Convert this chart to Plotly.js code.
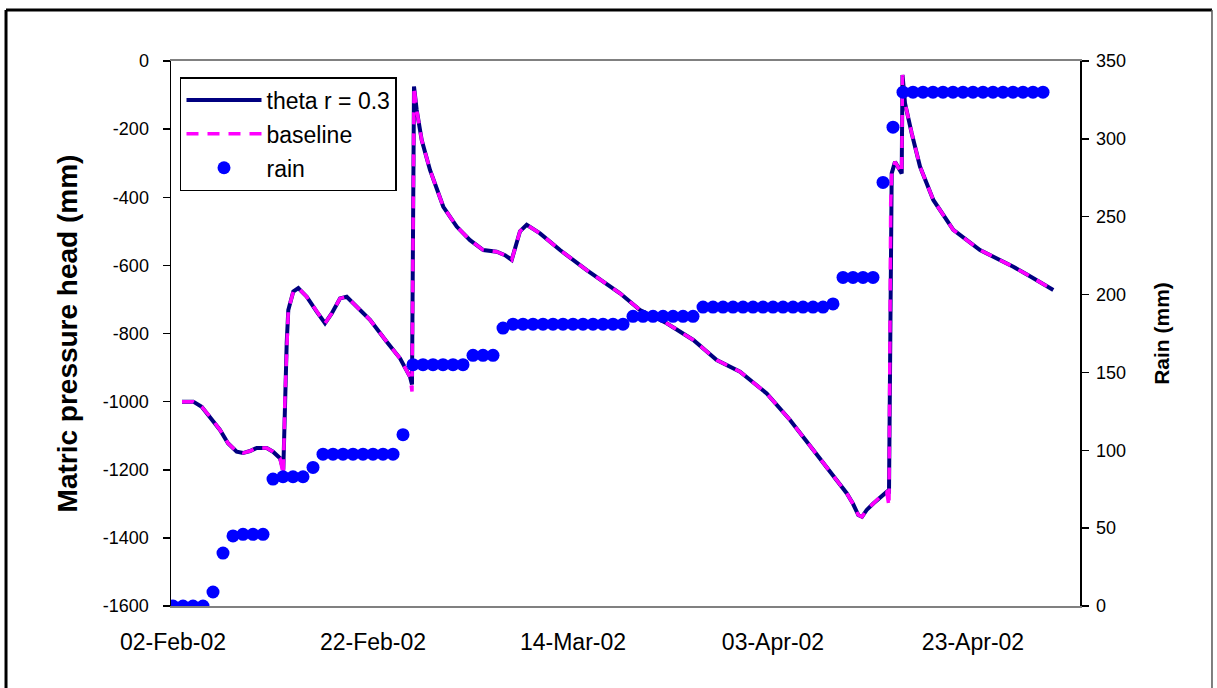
<!DOCTYPE html>
<html>
<head>
<meta charset="utf-8">
<script src="https://cdn.plot.ly/plotly-3.0.1.min.js"></script>
<style>
html,body{margin:0;padding:0;background:#fff;}
#chart{width:1217px;height:688px;}
</style>
</head>
<body>
<div id="chart"></div>
<script>
// ---- data (days after 02-Feb-2002) ----
const startDate = Date.UTC(2002, 1, 2);
const DAY = 86400000;

const headDays = [0.9, 2.03, 2.87, 3.7, 4.7, 5.5, 6.37, 7.0, 7.7, 8.37, 9.37, 10.0, 10.7, 11.03, 11.2, 11.37, 11.53,
  12.03, 12.53, 13.37, 14.37, 15.2, 15.87, 16.7, 17.37, 18.37, 19.7, 21.37, 22.7, 23.7, 23.9, 24.1, 24.37,
  24.87, 25.7, 27.03, 28.37, 29.7, 31.03, 32.37, 33.2, 33.87, 34.37, 34.7, 35.37, 36.7, 38.7, 41.37, 44.7,
  46.7, 49.37, 52.03, 54.37, 56.7, 59.37, 61.7, 64.03, 66.03, 67.37, 68.0, 68.53, 68.9, 69.37, 70.03, 70.7,
  71.37, 71.6, 71.77, 71.87, 72.2, 72.87, 72.95, 73.2, 73.87, 74.7, 76.03, 78.03, 80.7, 84.03, 85.7, 88.03];

const thetaR03 = [-1000, -1000, -1015, -1044, -1083, -1122, -1147, -1151, -1145, -1136, -1136, -1147, -1166, -1200, -985, -828, -731,
  -677, -667, -692, -736, -770, -741, -697, -692, -721, -760, -824, -873, -927, -950, -75, -144,
  -232, -320, -428, -486, -526, -555, -560, -570, -584, -535, -500, -481, -506, -555, -614, -682,
  -731, -770, -819, -878, -912, -976, -1054, -1142, -1220, -1269, -1300, -1333, -1338, -1318, -1299, -1280,
  -1265, -1270, -417, -330, -296, -330, -41, -124, -212, -310, -408, -496, -555, -604, -632, -672];

const baseline = [-1000, -1000, -1015, -1044, -1083, -1122, -1147, -1151, -1145, -1136, -1136, -1147, -1166, -1215, -985, -828, -731,
  -677, -667, -692, -736, -770, -741, -697, -692, -721, -760, -824, -873, -927, -970, -75, -144,
  -232, -320, -428, -486, -526, -555, -560, -570, -584, -535, -500, -481, -506, -555, -614, -682,
  -731, -770, -819, -878, -912, -976, -1054, -1142, -1220, -1269, -1300, -1333, -1338, -1318, -1299, -1280,
  -1265, -1307, -417, -330, -296, -330, -41, -124, -212, -310, -408, -496, -555, -604, -632, -672];

const rainDays = [0,1,2,3,4,5,6,7,8,9,10,11,12,13,14,15,16,17,18,19,20,21,22,23,24,25,26,27,28,29,
  30,31,32,33,34,35,36,37,38,39,40,41,42,43,44,45,46,47,48,49,50,51,52,53,54,55,56,57,58,59,
  60,61,62,63,64,65,66,67,68,69,70,71,72,73,74,75,76,77,78,79,80,81,82,83,84,85,86,87];

const rainMm = [0, 0, 0, 0, 9, 34, 45, 46, 46, 46, 81.5, 83, 83, 83, 89,
  97.5, 97.5, 97.5, 97.5, 97.5, 97.5, 97.5, 97.5, 110,
  155, 155, 155, 155, 155, 155, 161, 161, 161, 178.5,
  181, 181, 181, 181, 181, 181, 181, 181, 181, 181, 181, 181,
  186, 186, 186, 186, 186, 186, 186,
  192, 192, 192, 192, 192, 192, 192, 192, 192, 192, 192, 192, 192,
  194, 211, 211, 211, 211, 272, 307.5,
  330, 330, 330, 330, 330, 330, 330, 330, 330, 330, 330, 330, 330, 330, 330];

const leftTickVals = [0, -200, -400, -600, -800, -1000, -1200, -1400, -1600];
const leftTickText = ['0', '-200', '-400', '-600', '-800', '-1000', '-1200', '-1400', '-1600'];
const rightTickVals = [0, 50, 100, 150, 200, 250, 300, 350];
const rightTickText = ['0', '50', '100', '150', '200', '250', '300', '350'];
const xTickFormat = '%d-%b-%y';
const leftTitle = 'Matric pressure head (mm)';
const rightTitle = 'Rain (mm)';
const seriesNames = ['theta r = 0.3', 'baseline', 'rain'];

// ---- build ----
const toDate = d => startDate + d * DAY;

const traces = [
  {
    x: headDays.map(toDate), y: thetaR03, name: seriesNames[0], type: 'scatter', mode: 'lines',
    line: {color: '#000080', width: 4}, legendgroup: 'a', yaxis: 'y'
  },
  {
    x: headDays.map(toDate), y: baseline, name: seriesNames[1], type: 'scatter', mode: 'lines',
    line: {color: '#FF00FF', width: 3.5, dash: '12px,9px'}, legendgroup: 'b', yaxis: 'y'
  },
  {
    x: rainDays.map(toDate), y: rainMm, name: seriesNames[2], type: 'scatter', mode: 'markers',
    marker: {color: '#0000FF', size: 13}, legendgroup: 'c', yaxis: 'y2'
  }
];

const font = 'Liberation Sans, Arial, sans-serif';

const layout = {
  width: 1217, height: 688,
  margin: {l: 171, r: 137, t: 61, b: 82},
  paper_bgcolor: '#fff', plot_bgcolor: '#fff',
  font: {family: font, size: 18, color: '#000'},
  showlegend: true,
  legend: {
    x: 0.0099, y: 0.9706, xanchor: 'left', yanchor: 'top',
    bordercolor: '#000', borderwidth: 1.5, bgcolor: '#fff',
    font: {family: font, size: 23, color: '#000'},
    itemwidth: 75,
    traceorder: 'grouped', tracegroupgap: 1
  },
  xaxis: {
    type: 'date',
    range: [toDate(-0.2), toDate(90.7)],
    tick0: toDate(0), dtick: 20 * DAY, tickformat: xTickFormat,
    showgrid: false, zeroline: false,
    showline: true, linecolor: '#808080', linewidth: 2, mirror: true,
    ticks: '', ticklabelstandoff: 14,
    tickfont: {family: font, size: 23, color: '#000'}
  },
  yaxis: {
    range: [-1600, 0], tickmode: 'array', tickvals: leftTickVals, ticktext: leftTickText,
    showgrid: false, zeroline: false,
    showline: true, linecolor: '#000', linewidth: 1.5,
    ticks: 'outside', ticklen: 7, tickcolor: '#000', tickwidth: 1.5,
    ticklabelstandoff: 10,
    tickfont: {family: font, size: 18, color: '#000'},
    title: {text: leftTitle, font: {family: font, size: 28, color: '#000', weight: 'bold'}, standoff: 17}
  },
  yaxis2: {
    overlaying: 'y', side: 'right', anchor: 'x',
    range: [0, 350], tickmode: 'array', tickvals: rightTickVals, ticktext: rightTickText,
    showgrid: false, zeroline: false,
    showline: true, linecolor: '#000', linewidth: 1.5,
    ticks: 'outside', ticklen: 7, tickcolor: '#000', tickwidth: 1.5,
    ticklabelstandoff: 4,
    tickfont: {family: font, size: 18, color: '#000'},
    title: {text: rightTitle, font: {family: font, size: 21, color: '#000', weight: 'bold'}, standoff: 29}
  },
  shapes: [
    {type: 'line', xref: 'paper', yref: 'paper', x0: -0.1815, x1: 1.1452, y0: 1.0936, y1: 1.0936,
     line: {color: '#000', width: 3}},
    {type: 'line', xref: 'paper', yref: 'paper', x0: -0.1815, x1: -0.1815, y0: 1.0936, y1: -0.2,
     line: {color: '#000', width: 3}},
    {type: 'line', xref: 'paper', yref: 'paper', x0: 1.1452, x1: 1.1452, y0: 1.0936, y1: -0.2,
     line: {color: '#555', width: 1.5}}
  ]
};

Plotly.newPlot('chart', traces, layout, {displayModeBar: false, staticPlot: true});
</script>
</body>
</html>
